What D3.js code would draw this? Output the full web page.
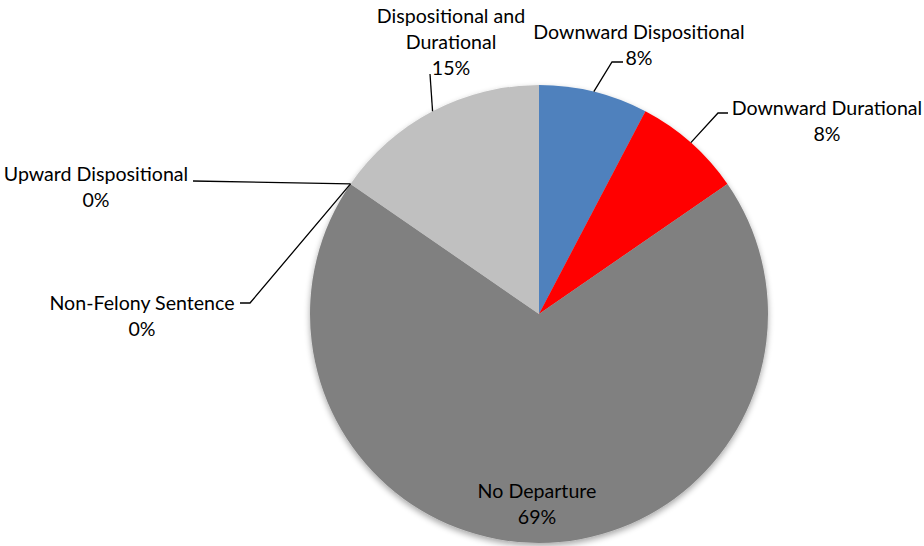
<!DOCTYPE html>
<html><head><meta charset="utf-8">
<script src="https://cdn.jsdelivr.net/npm/d3@7"></script>
<style>body{margin:0;background:#fff}svg{display:block}text{font-family:Lato,"Open Sans",sans-serif;font-size:19.6px;fill:#000}</style>
</head><body>
<svg id="c" width="924" height="546"></svg>
<script>
const categories = ["Downward Dispositional","Downward Durational","No Departure","Non-Felony Sentence","Upward Dispositional","Dispositional and Durational"];
const counts = [1,1,9,0,0,2];
const percentLabels = ["8%","8%","69%","0%","0%","15%"];
const colors = ["#4F81BD","#FF0000","#808080","#808080","#808080","#C0C0C0"];

const W=924,H=546, cx=539, cy=314, R=229;
const svg=d3.select("#c");
const defs=svg.append("defs");
const f=defs.append("filter").attr("id","sh").attr("x","-10%").attr("y","-10%").attr("width","120%").attr("height","125%");
f.append("feGaussianBlur").attr("in","SourceAlpha").attr("stdDeviation",3);
f.append("feOffset").attr("dx",0).attr("dy",3).attr("result","b");
f.append("feComponentTransfer").append("feFuncA").attr("type","linear").attr("slope",0.35);
const m=f.append("feMerge"); m.append("feMergeNode"); m.append("feMergeNode").attr("in","SourceGraphic");

const pie=d3.pie().sort(null).value(d=>d)(counts);
const arc=d3.arc().innerRadius(0).outerRadius(R);
const g=svg.append("g").attr("transform",`translate(${cx},${cy})`);
g.append("g").attr("filter","url(#sh)").selectAll("path").data(pie).join("path")
  .attr("d",arc).attr("fill",(d,i)=>colors[i]);

// label layout: offsets from pie centre for text center, leader elbow
const layout=[
 {lines:["Downward Dispositional","8%"], tx:100, ty:-282, pts:[[73,-252],[84,-252]]},
 {lines:["Downward Durational","8%"], tx:288, ty:-206, pts:[[179,-201],[189,-201]]},
 {lines:["No Departure","69%"], tx:-2, ty:177, pts:null},
 {lines:["Non-Felony Sentence","0%"], tx:-397, ty:-11, pts:[[-289,-11],[-299,-11]]},
 {lines:["Upward Dispositional","0%"], tx:-443, ty:-140, pts:[[-346,-133]]},
 {lines:["Dispositional and","Durational","15%"], tx:-88, ty:-298, pts:[[-109,-240]]}
];
const lineH=26;
const lab=g.append("g");
pie.forEach((d,i)=>{
  const L=layout[i];
  const a=(d.startAngle+d.endAngle)/2;
  const p0=[R*Math.sin(a),-R*Math.cos(a)];
  if(L.pts){
    lab.append("path").attr("d",d3.line()([p0,...L.pts])).attr("fill","none").attr("stroke","#000").attr("stroke-width",1.3);
  }
  const t=lab.append("text").attr("text-anchor","middle");
  L.lines.forEach((s,k)=>{
    t.append("tspan").attr("x",L.tx).attr("y",L.ty+k*lineH).attr("dy","0.35em").text(k===L.lines.length-1? percentLabels[i] : s);
  });
});
</script>
</body></html>
